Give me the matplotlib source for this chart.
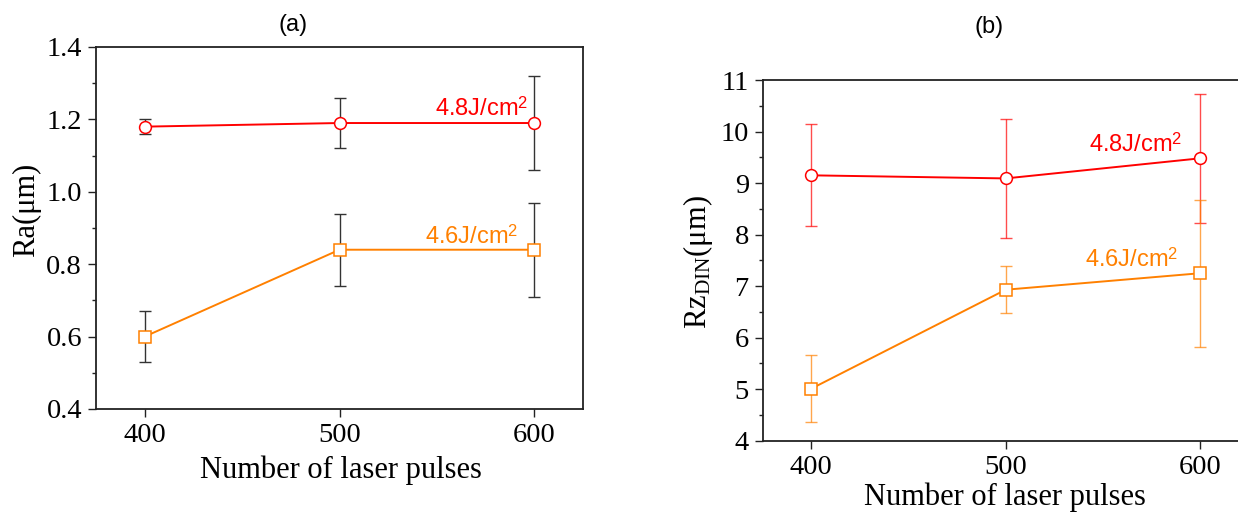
import matplotlib
matplotlib.use("Agg")
import matplotlib.pyplot as plt
from matplotlib.ticker import MultipleLocator, FormatStrFormatter

plt.rcParams['font.family'] = ['Liberation Serif', 'DejaVu Serif']
plt.rcParams['mathtext.fontset'] = 'custom'
plt.rcParams['mathtext.rm'] = 'Liberation Serif'
plt.rcParams['mathtext.it'] = 'Liberation Serif:italic'
plt.rcParams['mathtext.sf'] = 'Liberation Sans'

# Number of laser pulses
pulses = [400, 500, 600]

# (a) Ra (um)
ra_48 = [1.18, 1.19, 1.19]
ra_48_err = [0.02, 0.07, 0.13]
ra_46 = [0.60, 0.84, 0.84]
ra_46_err = [0.07, 0.10, 0.13]

# (b) Rz_DIN (um)
rz_48 = [9.15, 9.09, 9.48]
rz_48_err = [0.99, 1.15, 1.25]
rz_46 = [5.01, 6.93, 7.25]
rz_46_err = [0.65, 0.46, 1.43]

series_labels = ['4.8J/cm$^{\\mathsf{2}}$', '4.6J/cm$^{\\mathsf{2}}$']
red = '#FF0000'
orange = '#FF8000'

W, H = 1238, 515
fig = plt.figure(figsize=(W / 100, H / 100), dpi=100)


def axes_px(x0, y0, x1, y1):
    return fig.add_axes([x0 / W, 1 - y1 / H, (x1 - x0) / W, (y1 - y0) / H])


def style_axes(ax, ymin, ymax, major, minor):
    ax.set_xlim(375, 625)
    ax.set_ylim(ymin, ymax)
    ax.set_xticks(pulses)
    ax.yaxis.set_major_locator(MultipleLocator(major))
    ax.yaxis.set_minor_locator(MultipleLocator(minor))
    for s in ax.spines.values():
        s.set_linewidth(1.3)
        s.set_color('#222222')
    ax.tick_params(axis='both', which='major', direction='out', length=6,
                   width=1.0, labelsize=20.5, pad=4, color='#222222')
    ax.tick_params(axis='y', which='minor', direction='out', length=3,
                   width=1.0, color='#222222')
    ax.tick_params(axis='x', which='minor', bottom=False)
    ax.tick_params(top=True, right=True, which='both')
    ax.tick_params(axis='x', which='major', top=True, direction='out')
    for t in ax.xaxis.get_major_ticks():
        t.tick2line.set_markersize(-2)
    for t in ax.yaxis.get_major_ticks():
        t.tick2line.set_markersize(-2)
    for t in ax.yaxis.get_minor_ticks():
        t.tick2line.set_markersize(-1.5)


def draw_series(ax, y, yerr, color, marker, ecolor, ealpha, ms):
    ax.errorbar(pulses, y, yerr=yerr, fmt='none', ecolor=ecolor,
                elinewidth=1.0, capsize=4, capthick=1.0, alpha=ealpha, zorder=2)
    ax.plot(pulses, y, color=color, lw=1.4, marker=marker, ms=ms,
            mfc='white', mec=color, mew=1.1, zorder=3)


def label_text(ax, x, y, s, color):
    ax.text(x, y, s, color=color, fontsize=17, family='Liberation Sans',
            ha='right', va='baseline')


# ---- panel (a) ----
ax1 = axes_px(96, 47, 583, 409)
style_axes(ax1, 0.4, 1.4, 0.2, 0.1)
ax1.yaxis.set_major_formatter(FormatStrFormatter('%.1f'))
draw_series(ax1, ra_48, ra_48_err, red, 'o', '#333333', 1.0, 8.5)
draw_series(ax1, ra_46, ra_46_err, orange, 's', '#333333', 1.0, 8)
label_text(ax1, 597, 1.209, series_labels[0], red)
label_text(ax1, 592, 0.857, series_labels[1], orange)
fig.text(341 / W, 1 - 470 / H, 'Number of laser pulses', fontsize=22,
         ha='center', va='center')
fig.text(27 / W, 1 - 210 / H, 'Ra(\u03bcm)', fontsize=22, rotation=90,
         ha='center', va='center')
fig.text(293 / W, 1 - 25 / H, '(a)', fontsize=17, family='Liberation Sans',
         ha='center', va='center')

# ---- panel (b) ----
ax2 = axes_px(762.7, 80, 1248.7, 440.7)
style_axes(ax2, 4, 11, 1, 0.5)
draw_series(ax2, rz_48, rz_48_err, red, 'o', red, 0.7, 8.5)
draw_series(ax2, rz_46, rz_46_err, orange, 's', orange, 0.7, 8)
label_text(ax2, 591, 9.6, series_labels[0], red)
label_text(ax2, 589, 7.37, series_labels[1], orange)
fig.text(1005 / W, 1 - 497 / H, 'Number of laser pulses', fontsize=22,
         ha='center', va='center')
fig.text(698 / W, 1 - 262 / H, 'Rz$_{\\rm DIN}$(\u03bcm)', fontsize=22,
         rotation=90, ha='center', va='center')
fig.text(989 / W, 1 - 27 / H, '(b)', fontsize=17, family='Liberation Sans',
         ha='center', va='center')

fig.savefig('out.png', dpi=100)
